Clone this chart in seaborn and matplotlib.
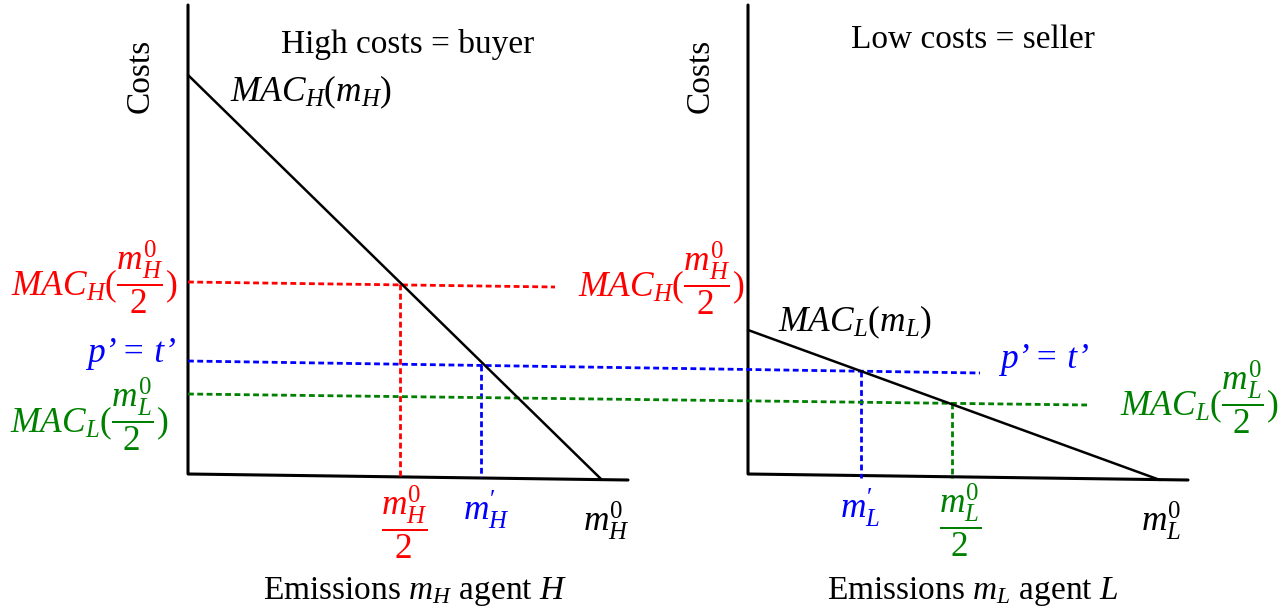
import matplotlib
matplotlib.use("Agg")
import matplotlib.pyplot as plt
import seaborn as sns
import pandas as pd

# Sketch canvas coordinates (x to the right, y downwards)
axis_h_x = [188, 188, 628]
axis_h_y = [5, 474, 480]
axis_l_x = [748, 748, 1188]
axis_l_y = [5, 474, 480]

mac_h_x = [188, 601]
mac_h_y = [75, 479]
mac_l_x = [748, 1160]
mac_l_y = [330, 480]

half_h_x = [188, 555]
half_h_y = [282, 287]
half_h_drop_x = [400, 400]
half_h_drop_y = [284, 476]

price_x = [188, 980]
price_y = [361, 373]
price_drop_h_x = [481, 481]
price_drop_h_y = [365, 477]
price_drop_l_x = [861, 861]
price_drop_l_y = [371, 478]

half_l_x = [188, 1087]
half_l_y = [394, 405]
half_l_drop_x = [952, 952]
half_l_drop_y = [403, 478]

RED, BLUE, GREEN = "#ff0000", "#0000ff", "#008000"

sns.set_theme(style="white")
plt.rcParams["font.family"] = ["Liberation Serif", "DejaVu Serif"]
plt.rcParams["text.color"] = "black"
plt.rcParams["mathtext.fontset"] = "custom"
plt.rcParams["mathtext.rm"] = "Liberation Serif"
plt.rcParams["mathtext.it"] = "Liberation Serif:italic"
plt.rcParams["mathtext.bf"] = "Liberation Serif:bold"

fig = plt.figure(figsize=(12.88, 6.15), dpi=100)
ax = fig.add_axes([0, 0, 1, 1])
ax.set_xlim(0, 1288)
ax.set_ylim(615, 0)
ax.axis("off")


def seg(xs, ys, color, lw, ls="-"):
    df = pd.DataFrame({"x": xs, "y": ys})
    sns.lineplot(data=df, x="x", y="y", ax=ax, color=color, linewidth=lw,
                 linestyle=ls, estimator=None, sort=False, legend=False)


dash = (0, (2.1, 1.25))

# axes of both panels
seg(axis_h_x, axis_h_y, "black", 2.2)
seg(axis_l_x, axis_l_y, "black", 2.2)

# dashed guide lines
seg(half_h_x, half_h_y, RED, 2.0, dash)
seg(half_h_drop_x, half_h_drop_y, RED, 2.0, dash)
seg(price_x, price_y, BLUE, 2.0, dash)
seg(price_drop_h_x, price_drop_h_y, BLUE, 2.0, dash)
seg(price_drop_l_x, price_drop_l_y, BLUE, 2.0, dash)
seg(half_l_x, half_l_y, GREEN, 2.0, dash)
seg(half_l_drop_x, half_l_drop_y, GREEN, 2.0, dash)

# marginal abatement cost curves
seg(mac_h_x, mac_h_y, "black", 1.8)
seg(mac_l_x, mac_l_y, "black", 1.8)

fs = 24
fm = 25.5
# titles and axis labels
ax.text(408, 45, "High costs = buyer", fontsize=fs, ha="center", va="center")
ax.text(973, 40, "Low costs = seller", fontsize=fs, ha="center", va="center")
ax.text(140, 76, "Costs", fontsize=fs, rotation=90, ha="center", va="center")
ax.text(700, 76, "Costs", fontsize=fs, rotation=90, ha="center", va="center")
ax.text(415, 592, r"Emissions $m_H$ agent $H$", fontsize=fs, ha="center", va="center")
ax.text(973, 592, r"Emissions $m_L$ agent $L$", fontsize=fs, ha="center", va="center")

# curve labels
ax.text(230, 92, r"$MAC_H(m_H)$", fontsize=fm, ha="left", va="center")
ax.text(778, 322, r"$MAC_L(m_L)$", fontsize=fm, ha="left", va="center")

# cost-axis labels
ax.text(178, 277, r"$MAC_H(\dfrac{m_H^0}{2})$", fontsize=fm, color=RED, ha="right", va="center")
ax.text(176, 354, "p’ = t’", fontsize=fm, style="italic", color=BLUE, ha="right", va="center")
ax.text(168, 414, r"$MAC_L(\dfrac{m_L^0}{2})$", fontsize=fm, color=GREEN, ha="right", va="center")

ax.text(578, 278, r"$MAC_H(\dfrac{m_H^0}{2})$", fontsize=fm, color=RED, ha="left", va="center")
ax.text(1000, 360, "p’ = t’", fontsize=fm, style="italic", color=BLUE, ha="left", va="center")
ax.text(1120, 397, r"$MAC_L(\dfrac{m_L^0}{2})$", fontsize=fm, color=GREEN, ha="left", va="center")

# emission-axis labels
ax.text(404, 522, r"$\dfrac{m_H^0}{2}$", fontsize=fm, color=RED, ha="center", va="center")
ax.text(486, 510, r"$m_H^{\prime}$", fontsize=fm, color=BLUE, ha="center", va="center")
ax.text(606, 521, r"$m_H^0$", fontsize=fm, color="black", ha="center", va="center")
ax.text(860, 508, r"$m_L^{\prime}$", fontsize=fm, color=BLUE, ha="center", va="center")
ax.text(960, 520, r"$\dfrac{m_L^0}{2}$", fontsize=fm, color=GREEN, ha="center", va="center")
ax.text(1161, 521, r"$m_L^0$", fontsize=fm, color="black", ha="center", va="center")

fig.savefig("out.png", dpi=100, facecolor="white")
